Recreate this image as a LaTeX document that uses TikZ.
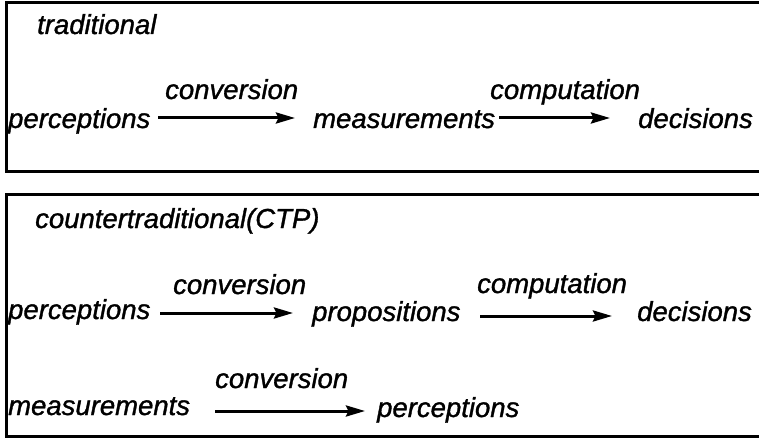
\documentclass[tikz,border=0pt]{standalone}
\usepackage{fontspec}
\setmainfont{Liberation Sans}
\usetikzlibrary{arrows.meta}
\begin{document}
\begin{tikzpicture}[x=1pt,y=-1pt,
  lbl/.style={anchor=base west,inner sep=0pt,font=\fontsize{27.5}{30}\selectfont\itshape\addfontfeature{FakeBold=1.2}},
  arr/.style={line width=3pt,-{Stealth[length=19pt,width=11pt,inset=2.5pt]}},
  frame/.style={line width=3pt}]
\useasboundingbox (0,0) rectangle (759,438);
% frames (right side open, cut by the page edge)
\draw[frame] (762,3) -- (6,3) -- (6,172) -- (762,172);
\draw[frame] (762,195) -- (6,195) -- (6,436) -- (762,436);
% traditional
\node[lbl] (t1) at (37,34) {traditional};
\node[lbl] (p1) at (8,128) {perceptions};
\node[lbl] (c1) at (165,99) {conversion};
\node[lbl] (m1) at (313,128) {measurements};
\node[lbl] (k1) at (490,99) {computation};
\node[lbl] (d1) at (638,128) {decisions};
\draw[arr] ([xshift=150pt,yshift=10pt]p1.base west) -- ([xshift=-18pt,yshift=10pt]m1.base west);
\draw[arr] ([xshift=186pt,yshift=10pt]m1.base west) -- ([xshift=-28pt,yshift=10pt]d1.base west);
% countertraditional
\node[lbl] (t2) at (35,228) {countertraditional(CTP)};
\node[lbl] (c2) at (173,294) {conversion};
\node[lbl] (k2) at (477,293) {computation};
\node[lbl] (p2) at (8,319) {perceptions};
\node[lbl] (r2) at (312,321) {propositions};
\node[lbl] (d2) at (637,321) {decisions};
\draw[arr] ([xshift=152pt,yshift=6pt]p2.base west) -- ([xshift=-19pt,yshift=8pt]r2.base west);
\draw[arr] ([xshift=168pt,yshift=5pt]r2.base west) -- ([xshift=-25pt,yshift=5pt]d2.base west);
\node[lbl] (c3) at (215,388) {conversion};
\node[lbl] (m3) at (8,415) {measurements};
\node[lbl] (p3) at (377,417) {perceptions};
\draw[arr] ([xshift=207pt,yshift=4pt]m3.base west) -- ([xshift=-12pt,yshift=6pt]p3.base west);
\end{tikzpicture}
\end{document}
